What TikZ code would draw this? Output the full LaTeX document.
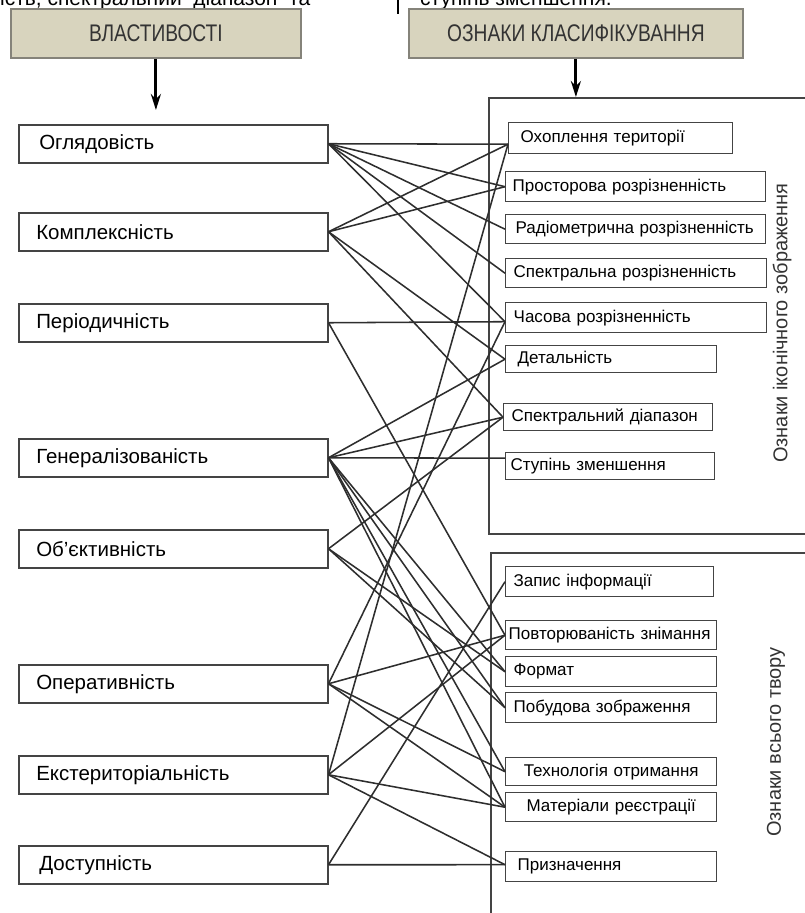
\documentclass[tikz,border=0pt]{standalone}
\usepackage{fontspec}
\setmainfont{Liberation Sans}
\newfontfamily\narrowfont[FakeStretch=0.8]{Liberation Sans}
\usetikzlibrary{arrows.meta}
\definecolor{linec}{HTML}{2E2E2E}
\definecolor{boxc}{HTML}{444444}
\definecolor{hdrfill}{HTML}{D8D4BE}
\definecolor{hdrdraw}{HTML}{85837A}
\begin{document}
\begin{tikzpicture}[x=1pt,y=-1pt,
  hdr/.style={draw=hdrdraw, line width=1.8pt, fill=hdrfill, anchor=north west,
    font=\narrowfont\fontsize{24}{28}\selectfont, text=black!80, inner sep=0pt},
  lbox/.style={draw=boxc, line width=1.5pt, anchor=north west, minimum height=38pt,
    text width=274pt, inner xsep=17.5pt, align=left, font=\fontsize{20.5}{24}\selectfont},
  rbox/.style={draw=boxc, line width=1.4pt, anchor=north west, inner xsep=8pt,
    align=left, font=\fontsize{17}{20}\selectfont},
  outer/.style={draw=boxc, line width=1.5pt, anchor=north west, inner sep=0pt},
  conn/.style={draw=linec, line width=1.55pt},
  arr/.style={draw=black, line width=3pt, -{Stealth[length=16pt,width=10pt]}},
  side/.style={rotate=90, font=\fontsize{20}{23}\selectfont, text=black!80}
]
\useasboundingbox (0,0) rectangle (804,913);
% cut-off text at the top
\node[anchor=base west, inner sep=0pt, font=\fontsize{21}{24}\selectfont] (topL) at (0,5) {ість, спектральний\ \ діапазон\ \ та};
\node[anchor=base west, inner sep=0pt, font=\fontsize{21}{24}\selectfont] (topR) at (420,5) {ступінь зменшення.};
\coordinate (barT) at (398,-2);
\coordinate (barB) at (398,14);
\draw[line width=2.4pt] (barT) -- (barB);

% headers
\node[hdr, minimum width=290pt, minimum height=49pt] (H1) at (10,8) {ВЛАСТИВОСТІ};
\node[hdr, minimum width=334pt, minimum height=49pt] (H2) at (408,8) {ОЗНАКИ КЛАСИФІКУВАННЯ};

% outer frames
\node[outer, minimum width=340pt, minimum height=436pt] (BA) at (488,97) {};
\node[outer, minimum width=340pt, minimum height=400pt] (BB) at (490,552) {};
\node[side] (LA) at (782,323) {Ознаки іконічного зображення};
\node[side] (LB) at (776,742) {Ознаки всього твору};

% left boxes
\node[lbox] (O1) at (18,124) {\hspace*{3pt}Оглядовість};
\node[lbox] (O2) at (18,212) {Комплексність};
\node[lbox] (O3) at (18,303) {Періодичність};
\node[lbox] (O4) at (18,438) {Генералізованість};
\node[lbox] (O5) at (18,529) {Об'єктивність};
\node[lbox] (O6) at (18,664) {Оперативність};
\node[lbox] (O7) at (18,755) {Екстериторіальність};
\node[lbox] (O8) at (18,845) {\hspace*{3pt}Доступність};

% right boxes, upper group
\node[rbox, text width=208pt, minimum height=31pt] (R1) at (508,122) {\hspace*{4pt}Охоплення території};
\node[rbox, text width=246pt, minimum height=30pt, inner xsep=7pt] (R2) at (505,171) {Просторова розрізненність};
\node[rbox, text width=246pt, minimum height=29pt, inner xsep=7pt] (R3) at (505,214) {\hspace*{3pt}Радіометрична розрізненність};
\node[rbox, text width=245pt, minimum height=29pt] (R4) at (505,258) {Спектральна розрізненність};
\node[rbox, text width=245pt, minimum height=30pt] (R5) at (505,302) {Часова розрізненність};
\node[rbox, text width=195pt, minimum height=27pt] (R6) at (505,345) {\hspace*{4pt}Детальність};
\node[rbox, text width=193pt, minimum height=27pt] (R7) at (503,403) {Спектральний діапазон};
\node[rbox, text width=199pt, minimum height=27pt, inner xsep=5pt] (R8) at (505,452) {Ступінь зменшення};

% right boxes, lower group
\node[rbox, text width=192pt, minimum height=30pt] (S1) at (505,566) {Запис інформації};
\node[rbox, text width=205pt, minimum height=29pt, inner xsep=3pt] (S2) at (505,620) {Повторюваність знімання};
\node[rbox, text width=195pt, minimum height=30pt] (S3) at (505,656) {Формат};
\node[rbox, text width=195pt, minimum height=30pt] (S4) at (505,692) {Побудова зображення};
\node[rbox, text width=195pt, minimum height=28pt, align=center] (S5) at (505,757) {Технологія отримання};
\node[rbox, text width=195pt, minimum height=29pt, align=center] (S6) at (505,792) {Матеріали реєстрації};
\node[rbox, text width=195pt, minimum height=30pt] (S7) at (505,851) {\hspace*{4pt}Призначення};

% header arrows
\draw[arr, shorten >=14pt] (H1.south) -- (H1.south |- O1.north);
\draw[arr] (H2.south) -- (H2.south |- BA.north);

% connector end points
\coordinate (tR1) at ([yshift=-6pt]R1.west);
\coordinate (tR2) at (R2.west);
\coordinate (tR3) at (R3.west);
\coordinate (tR4) at (R4.west);
\coordinate (tR5) at ([yshift=-4pt]R5.west);
\coordinate (tR6) at (R6.west);
\coordinate (tR7) at (R7.west);
\coordinate (tR8) at ([yshift=8pt]R8.west);
\coordinate (tS1) at (S1.west);
\coordinate (tS2) at (S2.west);
\coordinate (tS3) at (S3.west);
\coordinate (tS4) at (S4.west);
\coordinate (tS5) at (S5.west);
\coordinate (tS6) at (S6.west);
\coordinate (tS7) at ([yshift=2pt]S7.west);

% connectors
\foreach \a/\b in {O1/tR1, O1/tR2, O1/tR3, O1/tR4, O1/tR5,
                   O2/tR1, O2/tR2, O2/tR6, O2/tR7,
                   O3/tR5, O3/tS2,
                   O4/tR6, O4/tR7, O4/tR8, O4/tS3, O4/tS4, O4/tS5, O4/tS6,
                   O5/tR7, O5/tS3, O5/tS4,
                   O6/tR5, O6/tS2, O6/tS5, O6/tS6,
                   O7/tR1, O7/tS2, O7/tS6, O7/tS7,
                   O8/tS1, O8/tS7}
  \draw[conn] (\a.east) -- (\b);
\end{tikzpicture}
\end{document}
